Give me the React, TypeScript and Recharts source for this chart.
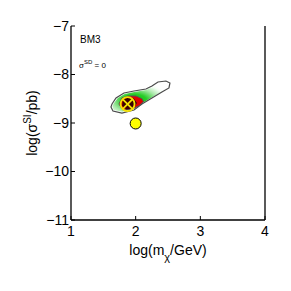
import { ScatterChart, Scatter, XAxis, YAxis, Label, Customized } from 'recharts';

const xTicks = [1, 2, 3, 4];
const yTicks = [-11, -10, -9, -8, -7];

// 2-sigma contour (grey outline)
const outerContour = [
  { x: 1.634, y: -8.608 }, { x: 1.696, y: -8.485 }, { x: 1.819, y: -8.381 },
  { x: 1.974, y: -8.34 }, { x: 2.159, y: -8.299 }, { x: 2.252, y: -8.237 },
  { x: 2.345, y: -8.155 }, { x: 2.468, y: -8.134 }, { x: 2.53, y: -8.175 },
  { x: 2.515, y: -8.278 }, { x: 2.406, y: -8.361 }, { x: 2.252, y: -8.485 },
  { x: 2.097, y: -8.608 }, { x: 1.974, y: -8.732 }, { x: 1.788, y: -8.794 },
  { x: 1.649, y: -8.753 }, { x: 1.618, y: -8.67 },
];

// green posterior region
const greenRegion = [
  { x: 1.66, y: -8.6 }, { x: 1.72, y: -8.49 }, { x: 1.83, y: -8.4 },
  { x: 1.98, y: -8.36 }, { x: 2.16, y: -8.32 }, { x: 2.26, y: -8.26 },
  { x: 2.36, y: -8.18 }, { x: 2.47, y: -8.16 }, { x: 2.5, y: -8.2 },
  { x: 2.48, y: -8.28 }, { x: 2.38, y: -8.37 }, { x: 2.24, y: -8.48 },
  { x: 2.09, y: -8.6 }, { x: 1.96, y: -8.71 }, { x: 1.79, y: -8.77 },
  { x: 1.66, y: -8.73 }, { x: 1.64, y: -8.66 },
];

// 1-sigma contour (red)
const innerContour = [
  { x: 1.742, y: -8.608 }, { x: 1.788, y: -8.485 }, { x: 1.881, y: -8.443 },
  { x: 2.005, y: -8.443 }, { x: 2.097, y: -8.5 }, { x: 2.12, y: -8.56 },
  { x: 2.06, y: -8.64 }, { x: 1.94, y: -8.72 }, { x: 1.8, y: -8.73 },
];

// darkest core
const darkCore = [
  { x: 1.8, y: -8.53 }, { x: 1.88, y: -8.47 }, { x: 1.97, y: -8.49 },
  { x: 2.02, y: -8.59 }, { x: 1.97, y: -8.69 }, { x: 1.86, y: -8.72 },
  { x: 1.79, y: -8.65 },
];

const bestFit = [{ x: 1.875, y: -8.61 }];
const benchmark = [{ x: 2.0, y: -9.01 }];

const font = 'Liberation Sans, Arial, Helvetica, sans-serif';
const fmt = (v: number) => String(v).replace('-', '\u2212');
const noDot = () => <g />;

const CrossedCircle = (props: any) => {
  const { cx, cy } = props;
  const r = 7;
  const d = r * 0.72;
  return (
    <g>
      <circle cx={cx} cy={cy} r={r} fill="none" stroke="#f5e300" strokeWidth={1.8} />
      <line x1={cx - d} y1={cy - d} x2={cx + d} y2={cy + d} stroke="#f5e300" strokeWidth={1.8} />
      <line x1={cx - d} y1={cy + d} x2={cx + d} y2={cy - d} stroke="#f5e300" strokeWidth={1.8} />
    </g>
  );
};

const YellowDot = (props: any) => (
  <circle cx={props.cx} cy={props.cy} r={5.5} fill="#ffff00" stroke="#000" strokeWidth={1} />
);

const Annotations = () => (
  <g fontFamily={font} fill="#000">
    <text x={80} y={43} fontSize={10}>BM3</text>
    <text x={79} y={68} fontSize={8}>
      σ<tspan dy={-4} fontSize={6}>SD</tspan>
      <tspan dy={4}> = 0</tspan>
    </text>
  </g>
);

export default function App() {
  return (
    <div style={{ position: 'absolute', left: 0, top: 0, width: 291, height: 291, background: '#fff' }}>
      <svg width={0} height={0} style={{ position: 'absolute' }}>
        <defs>
          <radialGradient id="greenFade" cx="40%" cy="62%" r="62%">
            <stop offset="0%" stopColor="#00c000" />
            <stop offset="35%" stopColor="#28cc28" />
            <stop offset="65%" stopColor="#a8e8a8" />
            <stop offset="90%" stopColor="#f4fff4" />
            <stop offset="100%" stopColor="#ffffff" />
          </radialGradient>
        </defs>
      </svg>
      <ScatterChart width={291} height={291} margin={{ top: 26, right: 0, bottom: 0, left: 0 }}>
        <XAxis
          type="number"
          dataKey="x"
          domain={[1, 4]}
          ticks={xTicks}
          interval={0}
          allowDataOverflow
          height={71}
          tickSize={-4}
          tickMargin={10}
          tickFormatter={fmt}
          axisLine={{ stroke: '#000', strokeWidth: 1.3 }}
          tickLine={{ stroke: '#000' }}
          tick={{ fill: '#000', fontSize: 14, fontFamily: font }}
        >
          <Label
            content={(p: any) => {
              const vb = p.viewBox;
              return (
                <text x={vb.x + vb.width / 2} y={vb.y + 35} textAnchor="middle" fontSize={14} fontFamily={font} fill="#000">
                  log(m<tspan dy={6} fontSize={11}>χ</tspan>
                  <tspan dy={-6}>/GeV)</tspan>
                </text>
              );
            }}
          />
        </XAxis>
        <XAxis
          xAxisId="top"
          orientation="top"
          type="number"
          domain={[1, 4]}
          ticks={xTicks}
          interval={0}
          allowDataOverflow
          height={0}
          tickSize={-4}
          tick={false}
          axisLine={{ stroke: '#000', strokeWidth: 1.3 }}
          tickLine={{ stroke: '#000' }}
        />
        <YAxis
          type="number"
          dataKey="y"
          domain={[-11, -7]}
          ticks={yTicks}
          interval={0}
          allowDataOverflow
          width={71}
          tickSize={-4}
          tickMargin={6}
          tickFormatter={fmt}
          axisLine={{ stroke: '#000', strokeWidth: 1.3 }}
          tickLine={{ stroke: '#000' }}
          tick={{ fill: '#000', fontSize: 14, fontFamily: font }}
        >
          <Label
            content={(p: any) => {
              const vb = p.viewBox;
              const cx = 37;
              const cy = vb.y + vb.height / 2;
              return (
                <text x={cx} y={cy} transform={`rotate(-90 ${cx} ${cy})`} textAnchor="middle" fontSize={14} fontFamily={font} fill="#000">
                  log(σ<tspan dy={-6} fontSize={10}>SI</tspan>
                  <tspan dy={6}>/pb)</tspan>
                </text>
              );
            }}
          />
        </YAxis>
        <YAxis
          yAxisId="right"
          orientation="right"
          type="number"
          domain={[-11, -7]}
          ticks={yTicks}
          interval={0}
          allowDataOverflow
          width={26}
          tickSize={-4}
          tick={false}
          axisLine={{ stroke: '#000', strokeWidth: 1.3 }}
          tickLine={{ stroke: '#000' }}
        />
        <Scatter
          data={greenRegion}
          shape={noDot}
          line={{ stroke: 'none', fill: 'url(#greenFade)' }}
          lineJointType="linearClosed"
          isAnimationActive={false}
        />
        <Scatter
          data={outerContour}
          shape={noDot}
          line={{ stroke: '#4a4a4a', strokeWidth: 1.2, fill: 'none' }}
          lineJointType="linearClosed"
          isAnimationActive={false}
        />
        <Scatter
          data={innerContour}
          shape={noDot}
          line={{ stroke: '#555', strokeWidth: 1, fill: '#e00000' }}
          lineJointType="linearClosed"
          isAnimationActive={false}
        />
        <Scatter
          data={darkCore}
          shape={noDot}
          line={{ stroke: 'none', fill: '#3a0000' }}
          lineJointType="linearClosed"
          isAnimationActive={false}
        />
        <Scatter data={bestFit} shape={CrossedCircle} isAnimationActive={false} />
        <Scatter data={benchmark} shape={YellowDot} isAnimationActive={false} />
        <Customized component={Annotations} />
      </ScatterChart>
    </div>
  );
}
